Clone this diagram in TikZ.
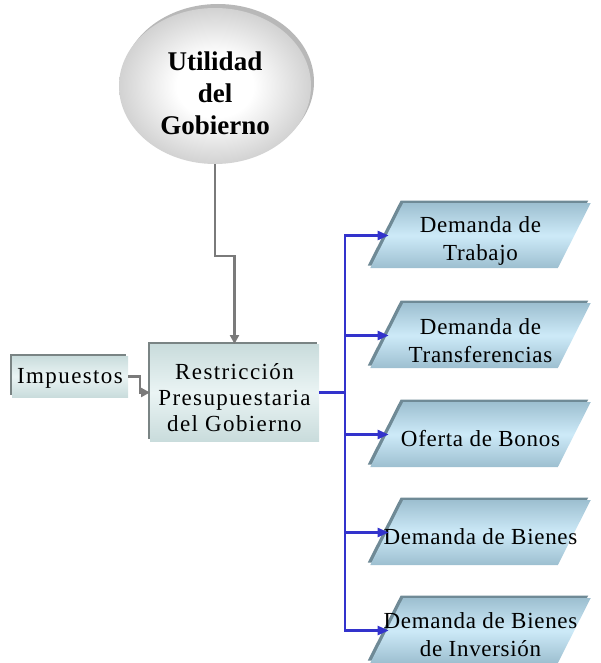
\documentclass[tikz,border=0pt]{standalone}
\usepackage{fontspec}
\setmainfont{Liberation Serif}
\usetikzlibrary{shapes.geometric,shadows,arrows.meta}
\definecolor{busblue}{HTML}{3333CC}
\definecolor{lineg}{HTML}{7A7A7A}
\definecolor{pedge}{HTML}{9DBFD0}
\definecolor{pmid}{HTML}{CDEAF8}
\definecolor{pbevel}{HTML}{6F8A96}
\definecolor{redge}{HTML}{C9DCDC}
\definecolor{rmid}{HTML}{EAF4F4}
\definecolor{rbevel}{HTML}{7A8484}
\definecolor{ellout}{HTML}{D2D2D2}
\definecolor{ellshadow}{HTML}{B8B8B8}
\pgfdeclareradialshading{ellsh}{\pgfpoint{0bp}{0bp}}{color(0bp)=(white); color(10bp)=(white); color(25bp)=(ellout); color(50bp)=(ellout)}
\tikzset{
  para/.style={trapezium, trapezium left angle=78, trapezium right angle=102,
    trapezium stretches=true, minimum width=221pt, minimum height=65pt,
    inner sep=0pt, outer sep=0pt,
    top color=pedge, bottom color=pedge, middle color=pmid,
    general shadow={fill=pbevel, shadow xshift=-2.5pt, shadow yshift=2.5pt}},
  ptext/.style={align=center, inner sep=0pt,
    font=\fontsize{23}{28}\selectfont\addfontfeature{LetterSpace=3}},
  rbox/.style={rectangle, inner sep=0pt, outer sep=0pt,
    top color=redge, bottom color=redge, middle color=rmid,
    general shadow={fill=rbevel, shadow xshift=-2.5pt, shadow yshift=2.5pt}},
  rtext/.style={align=center, inner sep=0pt,
    font=\fontsize{23}{26}\selectfont\addfontfeature{LetterSpace=6}},
  barrow/.style={draw=busblue, line width=2.2pt, -{Triangle[length=11pt,width=9pt]}},
  bline/.style={draw=busblue, line width=2.2pt},
  garrow/.style={draw=lineg, line width=2.2pt, -{Triangle[length=9pt,width=9pt]}},
}
\newcommand{\fillbox}{\rule{20pt}{0pt}\rule{0pt}{20pt}}
\begin{document}
\begin{tikzpicture}[x=1pt,y=-1pt]
\useasboundingbox (0,0) rectangle (600,663);
% ellipse
\node[ellipse, minimum width=192pt, minimum height=156pt, inner sep=0pt,
  shading=ellsh,
  general shadow={fill=ellshadow, shadow xshift=3pt, shadow yshift=4pt}] (util) at (215,86) {};
\node[align=center, inner sep=0pt, font=\fontsize{27}{32}\selectfont\bfseries] (utilt)
  at ([yshift=-7pt]util.center) {Utilidad\\del\\Gobierno};
% left boxes
\node[rbox, minimum width=169pt, minimum height=97pt] (rest) at (234.5,392.5) {};
\node[rtext] (restt) at ([yshift=-5pt]rest.center) {Restricción\\Presupuestaria\\del Gobierno};
\node[rbox, minimum width=116pt, minimum height=41pt] (imp) at (70,376.5) {};
\node[rtext] (impt) at ([yshift=-2pt]imp.center) {Impuestos};
% right parallelograms
\node[para] (p1) at (480.5,235.5) {\fillbox};
\node[para] (p2) at (480.5,335.5) {\fillbox};
\node[para] (p3) at (480.5,434.5) {\fillbox};
\node[para] (p4) at (480.5,532.5) {\fillbox};
\node[para] (p5) at (480.5,630.5) {\fillbox};
\node[ptext] (p1t) at ([yshift=-5pt]p1.center) {Demanda de\\Trabajo};
\node[ptext] (p2t) at ([yshift=-5pt]p2.center) {Demanda de\\Transferencias};
\node[ptext] (p3t) at ([yshift=-4pt]p3.center) {Oferta de Bonos};
\node[ptext] (p4t) at ([yshift=-4pt]p4.center) {Demanda de Bienes};
\node[ptext] (p5t) at ([yshift=-4pt]p5.center) {Demanda de Bienes\\de Inversión};
% connectors
\draw[garrow] (util.south) -- ++(0,92) -| (rest.north);
\draw[garrow] (imp.east) -- ++(12,0) |- (rest.west);
\coordinate (bus) at (345,392.5);
\draw[bline] (rest.east) -- (bus);
\foreach \p in {p1,p2,p3,p4,p5} {
  \draw[barrow] (bus) |- ([xshift=2pt]\p.west);
}
\end{tikzpicture}
\end{document}
